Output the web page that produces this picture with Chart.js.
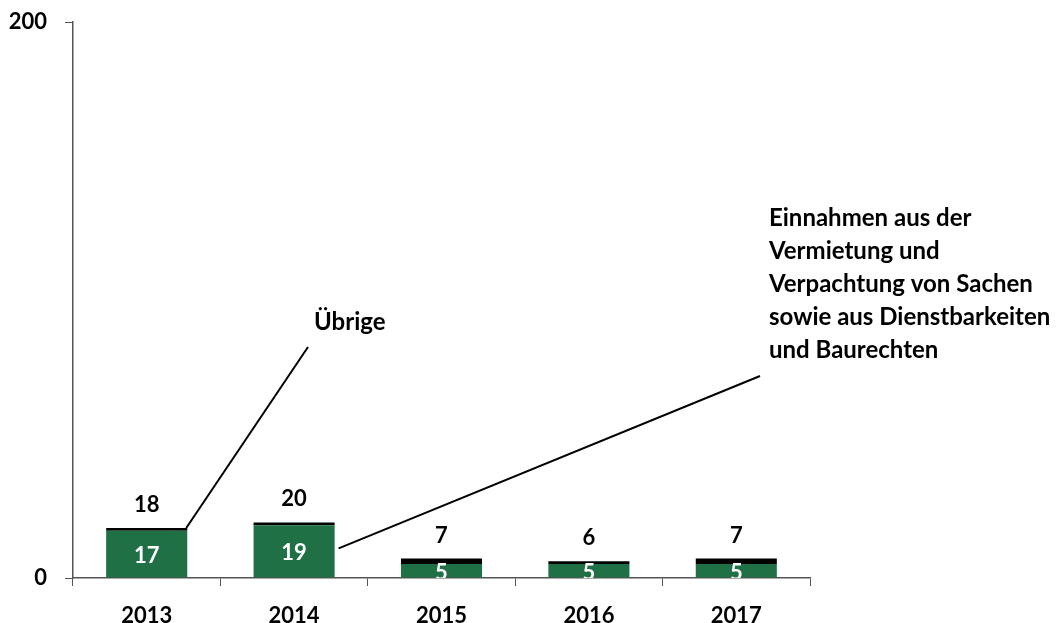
<!DOCTYPE html>
<html>
<head>
<meta charset="utf-8">
<script src="https://cdn.jsdelivr.net/npm/chart.js@4"></script>
<style>
  html, body { margin: 0; padding: 0; background: #fff; }
  #wrap { width: 1063px; height: 623px; }
</style>
</head>
<body>
<div id="wrap"><canvas id="chart"></canvas></div>
<script>
const years = ['2013', '2014', '2015', '2016', '2017'];
const mieteValues = [17, 19, 5, 5, 5];      // Einnahmen aus Vermietung/Verpachtung ...
const uebrigeValues = [1, 1, 2, 1, 2];      // Übrige
const totalLabels = ['18', '20', '7', '6', '7'];
const yTicks = [0, 200];

const mieteLabel = ['Einnahmen aus der', 'Vermietung und', 'Verpachtung von Sachen', 'sowie aus Dienstbarkeiten', 'und Baurechten'];
const uebrigeLabel = 'Übrige';

const FONT = 'Lato, "Open Sans", sans-serif';
const GREEN = '#1f7145';

// value labels + leader lines, drawn after the bars
const labelPlugin = {
    id: 'labels',
    afterDatasetsDraw: (chart) => {
        const ctx = chart.ctx;
        const area = chart.chartArea;
        const greenBars = chart.getDatasetMeta(0).data;
        const topBars = chart.getDatasetMeta(1).data;

        ctx.save();
        ctx.font = `bold 22px ${FONT}`;
        ctx.textAlign = 'center';
        ctx.textBaseline = 'middle';

        // totals above the bars
        ctx.fillStyle = '#000';
        topBars.forEach((bar, i) => {
            ctx.fillText(totalLabels[i], bar.x, bar.y - 23);
        });

        // green values inside, clipped at the axis
        ctx.save();
        ctx.beginPath();
        ctx.rect(area.left, area.top, area.right - area.left, area.bottom - area.top);
        ctx.clip();
        ctx.fillStyle = '#fff';
        greenBars.forEach((bar, i) => {
            ctx.fillText(String(mieteValues[i]), bar.x, (bar.y + bar.base) / 2 + 2);
        });
        ctx.restore();

        // leader lines
        ctx.strokeStyle = '#000';
        ctx.lineWidth = 2;
        const b0 = topBars[0];
        ctx.beginPath();
        ctx.moveTo(b0.x + b0.width / 2 - 1, b0.y);
        ctx.lineTo(308, 347);
        ctx.stroke();

        const g1 = greenBars[1];
        ctx.beginPath();
        ctx.moveTo(g1.x + g1.width / 2 + 4, (g1.y + g1.base) / 2 - 3);
        ctx.lineTo(760, 376);
        ctx.stroke();

        // annotation texts
        ctx.font = `bold 24px ${FONT}`;
        ctx.textAlign = 'left';
        ctx.fillStyle = '#000';
        ctx.fillText(uebrigeLabel, 314, 322);
        mieteLabel.forEach((line, i) => {
            ctx.fillText(line, 769, 218 + i * 33);
        });
        ctx.restore();
    }
};

new Chart(document.getElementById('chart'), {
    type: 'bar',
    data: {
        labels: years,
        datasets: [
            { label: 'Einnahmen aus der Vermietung und Verpachtung von Sachen sowie aus Dienstbarkeiten und Baurechten', data: mieteValues, backgroundColor: GREEN, barPercentage: 0.55, categoryPercentage: 1 },
            { label: uebrigeLabel, data: uebrigeValues, backgroundColor: '#000', barPercentage: 0.55, categoryPercentage: 1 }
        ]
    },
    options: {
        responsive: true,
        maintainAspectRatio: false,
        animation: false,
        layout: { padding: { top: 22, right: 253, left: 0, bottom: 0 } },
        plugins: { legend: { display: false }, tooltip: { enabled: false } },
        scales: {
            x: {
                stacked: true,
                afterFit: (scale) => { scale.height = 45; scale.paddingLeft = 0; scale.paddingRight = 0; },
                grid: { offset: true, drawOnChartArea: false, drawTicks: true, tickLength: 8, color: '#555' },
                border: { color: '#555', width: 1.5 },
                ticks: { color: '#000', padding: 17, font: { family: FONT, size: 22, weight: 'bold' } }
            },
            y: {
                stacked: true,
                min: 0,
                max: 200,
                afterFit: (scale) => { scale.width = 73; scale.paddingTop = 0; scale.paddingBottom = 0; },
                afterBuildTicks: (scale) => { scale.ticks = yTicks.map(v => ({ value: v })); },
                grid: { drawOnChartArea: false, drawTicks: true, tickLength: 8, color: '#555' },
                border: { color: '#555', width: 1.5 },
                ticks: { color: '#000', padding: 18, font: { family: FONT, size: 22, weight: 'bold' } }
            }
        }
    },
    plugins: [labelPlugin]
});
</script>
</body>
</html>
